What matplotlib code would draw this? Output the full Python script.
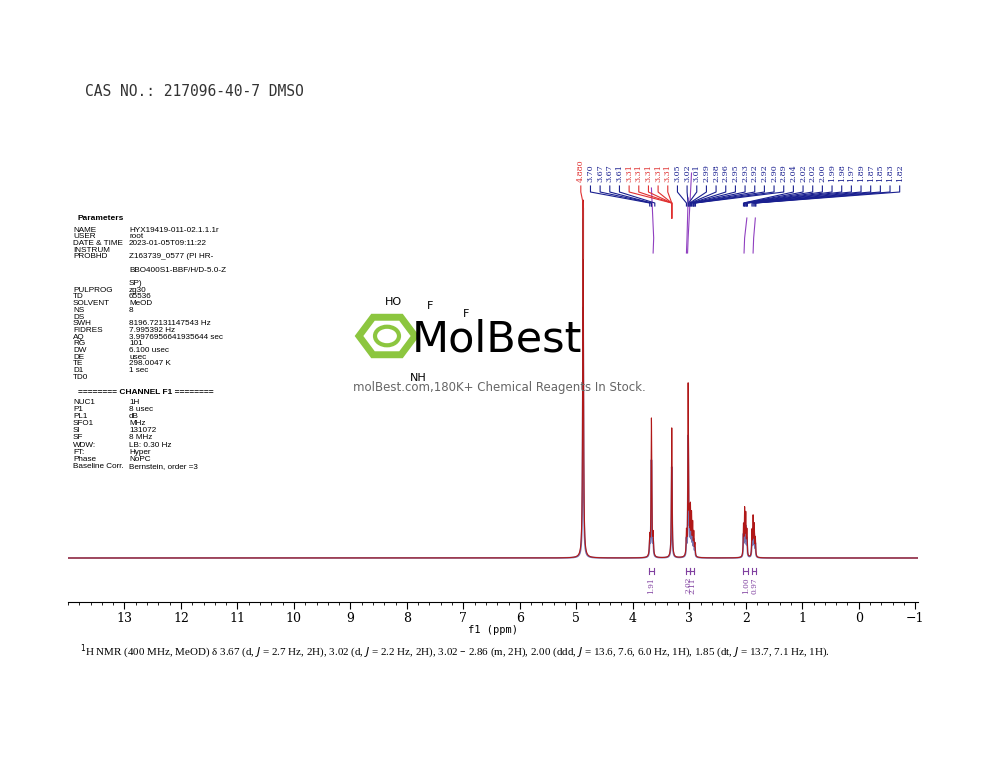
import numpy as np
import matplotlib
matplotlib.use("Agg")
import matplotlib.pyplot as plt
from matplotlib.patches import RegularPolygon, Circle

# peaks: (ppm, height) -- heights in arbitrary units
peak_ppm = [4.88, 3.70, 3.67, 3.64, 3.31, 3.05, 3.02, 3.00, 2.98, 2.96, 2.94, 2.92, 2.90,
            2.04, 2.02, 2.00, 1.98, 1.89, 1.87, 1.85, 1.83]
peak_h = [358, 18, 138, 20, 130, 22, 170, 35, 45, 38, 30, 22, 12,
          30, 45, 40, 25, 25, 38, 30, 18]
peak_w = [0.008, 0.007, 0.007, 0.007, 0.007] + [0.006] * 16

# label text, colour group, target ppm (in drawing order, left to right)
labels = (["4.880"] + ["3.70", "3.67", "3.67", "3.61"] + ["3.31", "3.31", "3.31", "3.31", "3.31"]
          + ["3.05", "3.02", "3.01", "2.99", "2.98", "2.96", "2.95", "2.93", "2.92", "2.92", "2.90",
             "2.89", "2.04", "2.02", "2.02", "2.00", "1.99", "1.98", "1.97", "1.89", "1.87", "1.85",
             "1.83", "1.82"])
label_red = [True] + [False] * 4 + [True] * 5 + [False] * 24
integral_ppm = [3.67, 3.02, 2.95, 2.00, 1.85]
integral_val = ["1.91", "2.02", "2.11", "1.00", "0.97"]
xticks = list(range(13, -2, -1))

params = [("NAME", "HYX19419-011-02.1.1.1r"), ("USER", "root"), ("DATE & TIME", "2023-01-05T09:11:22"),
          ("INSTRUM", ""), ("PROBHD", "Z163739_0577 (PI HR-"), ("", ""), ("", "BBO400S1-BBF/H/D-5.0-Z"),
          ("", ""), ("", "SP)"), ("PULPROG", "zg30"), ("TD", "65536"), ("SOLVENT", "MeOD"), ("NS", "8"),
          ("DS", ""), ("SWH", "8196.72131147543 Hz"), ("FIDRES", "7.995392 Hz"),
          ("AQ", "3.9976956641935644 sec"), ("RG", "101"), ("DW", "6.100 usec"), ("DE", "usec"),
          ("TE", "298.0047 K"), ("D1", "1 sec"), ("TD0", "")]
channel = [("NUC1", "1H"), ("P1", "8 usec"), ("PL1", "dB"), ("SFO1", "MHz"), ("SI", "131072"),
           ("SF", "8 MHz"), ("WDW:", "LB: 0.30 Hz"), ("FT:", "Hyper"), ("Phase", "NoPC"),
           ("Baseline Corr.", "Bernstein, order =3")]

fig = plt.figure(figsize=(10, 7.73), dpi=100)
W, H = 1000, 773
px = lambda x, y: (x / W, 1 - y / H)

ax = fig.add_axes([0.068, 1 - 602 / H, 0.85, 462 / H])
x = np.linspace(14, -1.05, 20000)
y = np.zeros_like(x)
for p, h, w in zip(peak_ppm, peak_h, peak_w):
    y += h / (1 + ((x - p) / w) ** 2)
ax.plot(x, y * 0.7, color="#1a1a80", lw=1.2, alpha=0.6)
ax.plot(x, y, color="#b01818", lw=0.8)
ax.set_xlim(14, -1.05)
ax.set_ylim(-44, 418)
for s in ["top", "left", "right"]:
    ax.spines[s].set_visible(False)
ax.set_yticks([])
ax.set_xticks(xticks)
ax.set_xticks(np.arange(14, -1.05, -0.2), minor=True)
ax.tick_params(axis="x", labelsize=9, length=5, direction="out", pad=2)
ax.tick_params(axis="x", which="minor", length=2.5)
for t in ax.get_xticklabels():
    t.set_family("DejaVu Serif")
ax.set_xlabel("f1 (ppm)", family="DejaVu Sans Mono", fontsize=7.5, labelpad=0)

# integrals below baseline
for p, v in zip(integral_ppm, integral_val):
    ax.plot([p - 0.04, p + 0.04], [-13, -13], color="#8040a0", lw=0.8)
    ax.plot([p - 0.04, p - 0.04], [-10, -16], color="#8040a0", lw=0.8)
    ax.plot([p + 0.04, p + 0.04], [-10, -16], color="#8040a0", lw=0.8)
    ax.text(p, -19, v, rotation=90, ha="center", va="top", fontsize=5.3, color="#8040a0",
            family="DejaVu Serif")

# integral curves
for p0, p1, top in [(3.64, 3.67, 370), (3.05, 3.02, 360), (3.03, 2.96, 385), (2.03, 1.98, 340),
                    (1.87, 1.83, 340)]:
    ax.plot([p0, p0 - 0.01, p1], [305, 320, top], color="#9040c0", lw=0.8)

# peak labels
lab_x = [(859 - p) / 56.5 for p in np.linspace(581, 900, len(labels))]
for lx, lab, red in zip(lab_x, labels, label_red):
    c = "#e03030" if red else "#1a2090"
    tgt = float(lab)
    ax.plot([lx, lx, tgt, tgt], [372, 366, 355, 352 if not red else 340], color=c, lw=0.8)
    ax.text(lx, 376, lab, rotation=90, ha="center", va="bottom", fontsize=5.8, color=c,
            family="DejaVu Serif")
ax.plot([4.88, 4.88], [300, 350], color="#c03030", lw=0.8)

# texts
fig.text(*px(85, 92), "CAS NO.: 217096-40-7 DMSO", family="DejaVu Sans Mono", fontsize=10.5,
         va="center", color="#333333")
fig.text(*px(78, 219), "Parameters", fontsize=6, weight="bold", va="center", family="Liberation Sans")
yy = 230
for k, v in params:
    fig.text(*px(73, yy), k, fontsize=5.9, va="center", family="Liberation Sans")
    fig.text(*px(129, yy), v, fontsize=5.9, va="center", family="Liberation Sans")
    yy += 6.7
fig.text(*px(78, 392), "======== CHANNEL F1 ========", fontsize=6, weight="bold", va="center",
         family="Liberation Sans")
yy = 402
for k, v in channel:
    fig.text(*px(73, yy), k, fontsize=5.9, va="center", family="Liberation Sans")
    fig.text(*px(129, yy), v, fontsize=5.9, va="center", family="Liberation Sans")
    yy += 7.2

fig.text(*px(80, 652), r"$^1$H NMR (400 MHz, MeOD) δ 3.67 (d, $J$ = 2.7 Hz, 2H), 3.02 (d, $J$ = 2.2 Hz, 2H), "
         r"3.02 – 2.86 (m, 2H), 2.00 (ddd, $J$ = 13.6, 7.6, 6.0 Hz, 1H), 1.85 (dt, $J$ = 13.7, 7.1 Hz, 1H).",
         family="Liberation Serif", fontsize=7.9, va="center")

# watermark
fig.patches.append(RegularPolygon(px(387, 336), 6, radius=0.028, orientation=np.pi / 6,
                                  transform=fig.transFigure, fill=False, ec="#8cc63f", lw=5))
fig.patches.append(Circle(px(387, 336), 0.012, transform=fig.transFigure, fill=False, ec="#8cc63f", lw=3))
fig.text(*px(412, 340), "MolBest", fontsize=31, va="center", color="black", family="Liberation Sans Narrow")
fig.text(*px(385, 302), "HO", fontsize=8, va="center")
fig.text(*px(427, 306), "F", fontsize=8, va="center")
fig.text(*px(463, 314), "F", fontsize=8, va="center")
fig.text(*px(410, 378), "NH", fontsize=8, va="center")
fig.text(*px(353, 388), "molBest.com,180K+ Chemical Reagents In Stock.", fontsize=8.5, va="center",
         color="#666666")

fig.savefig("out.png", dpi=100)
